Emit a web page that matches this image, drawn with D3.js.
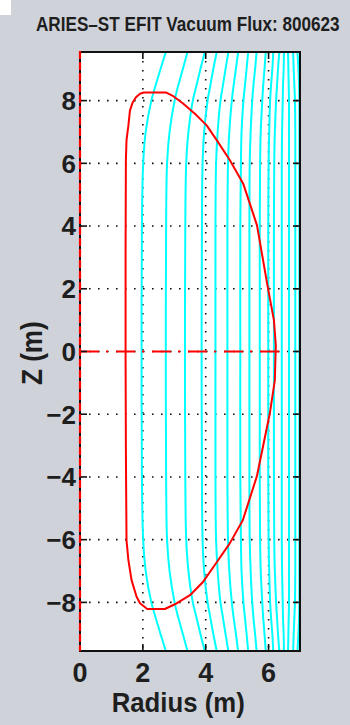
<!DOCTYPE html>
<html>
<head>
<meta charset="utf-8">
<script src="https://cdn.jsdelivr.net/npm/d3@7"></script>
<style>
  html, body { margin: 0; padding: 0; background: #cfd2d9; }
  svg { display: block; }
  text { font-family: "Liberation Sans", Arial, sans-serif; font-weight: bold; fill: #1e1e1e; }
</style>
</head>
<body>
<svg id="chart" width="350" height="725"></svg>
<script>
// Axis ticks
const xTicks = [0, 2, 4, 6];
const yTicks = [-8, -6, -4, -2, 0, 2, 4, 6, 8];

// Vertical stations (m) at which each flux contour's radius is tabulated
const zLevels = [9.55, 9.0, 8.5, 8.0, 7.0, 6.0, 4.0, 0, -4.0, -6.0, -7.0, -8.0, -8.5, -9.0, -9.55];

// Vacuum flux contours: radius (m) at each zLevel
const fluxContours = [
  [2.73, 2.56, 2.41, 2.27, 2.09, 2.01, 1.97, 1.96, 1.97, 2.01, 2.09, 2.27, 2.41, 2.56, 2.73],
  [3.42, 3.27, 3.13, 3.01, 2.85, 2.77, 2.74, 2.73, 2.74, 2.77, 2.85, 3.01, 3.13, 3.27, 3.42],
  [3.97, 3.83, 3.71, 3.59, 3.45, 3.38, 3.35, 3.34, 3.35, 3.38, 3.45, 3.59, 3.71, 3.83, 3.97],
  [4.35, 4.24, 4.15, 4.06, 3.95, 3.90, 3.88, 3.87, 3.88, 3.90, 3.95, 4.06, 4.15, 4.24, 4.35],
  [4.72, 4.63, 4.55, 4.47, 4.38, 4.33, 4.31, 4.31, 4.31, 4.33, 4.38, 4.47, 4.55, 4.63, 4.72],
  [5.03, 4.96, 4.89, 4.83, 4.75, 4.71, 4.69, 4.69, 4.69, 4.71, 4.75, 4.83, 4.89, 4.96, 5.03],
  [5.35, 5.30, 5.25, 5.20, 5.14, 5.12, 5.10, 5.10, 5.10, 5.12, 5.14, 5.20, 5.25, 5.30, 5.35],
  [5.62, 5.57, 5.52, 5.48, 5.43, 5.40, 5.39, 5.39, 5.39, 5.40, 5.43, 5.48, 5.52, 5.57, 5.62],
  [5.91, 5.87, 5.83, 5.80, 5.75, 5.73, 5.72, 5.72, 5.72, 5.73, 5.75, 5.80, 5.83, 5.87, 5.91],
  [6.15, 6.12, 6.08, 6.05, 6.02, 6.00, 5.99, 5.99, 5.99, 6.00, 6.02, 6.05, 6.08, 6.12, 6.15],
  [6.34, 6.30, 6.27, 6.24, 6.20, 6.18, 6.17, 6.17, 6.17, 6.18, 6.20, 6.24, 6.27, 6.30, 6.34],
  [6.49, 6.48, 6.46, 6.45, 6.43, 6.42, 6.42, 6.42, 6.42, 6.42, 6.43, 6.45, 6.46, 6.48, 6.49],
  [6.62, 6.63, 6.64, 6.65, 6.65, 6.65, 6.65, 6.65, 6.65, 6.65, 6.65, 6.65, 6.64, 6.63, 6.62],
  [6.78, 6.80, 6.82, 6.84, 6.85, 6.85, 6.85, 6.85, 6.85, 6.85, 6.85, 6.84, 6.82, 6.80, 6.78],
  [6.92, 6.95, 6.97, 6.98, 6.98, 6.98, 6.98, 6.98, 6.98, 6.98, 6.98, 6.98, 6.97, 6.95, 6.92]
];

// Plasma boundary (last closed flux surface): radius and height in metres
const boundaryR = [1.45, 1.45, 1.46, 1.48, 1.54, 1.59, 1.68, 1.78, 1.91, 2.03, 2.14, 2.73, 2.97, 3.28, 3.71, 4.03, 4.35, 4.77, 5.19, 5.63, 5.98, 6.17, 6.23,
                   6.20, 6.04, 5.63, 5.18, 4.77, 4.35, 3.92, 3.50, 3.02, 2.70, 2.14, 1.91, 1.80, 1.64, 1.54, 1.48, 1.46, 1.45];
const boundaryZ = [0.00, 3.20, 6.10, 6.74, 7.21, 7.69, 7.95, 8.11, 8.22, 8.26, 8.26, 8.26, 8.14, 7.91, 7.53, 7.21, 6.74, 6.10, 5.36, 4.03, 2.02, 1.00, 0.20,
                   -0.91, -1.97, -3.97, -5.38, -6.11, -6.72, -7.34, -7.77, -8.06, -8.21, -8.21, -8.03, -7.82, -7.29, -6.65, -6.02, -3.15, 0.00];

// Midplane chord
const midplaneR = [0, 6.42];
const midplaneZ = [0, 0];

const svg = d3.select("#chart");
const W = 350, H = 725;
const plot = { left: 80, right: 300, top: 52, bottom: 651 };

const x = d3.scaleLinear().domain([0, 7]).range([plot.left, plot.right]);
const y = d3.scaleLinear().domain([-9.55, 9.55]).range([plot.bottom, plot.top]);

// figure background
svg.append("rect").attr("width", W).attr("height", H).attr("fill", "#cfd2d9");
svg.append("rect").attr("x", 0).attr("y", 0).attr("width", 11).attr("height", 15).attr("fill", "#ffffff");

svg.append("defs").append("clipPath").attr("id", "plotClip")
  .append("rect")
  .attr("x", plot.left).attr("y", plot.top)
  .attr("width", plot.right - plot.left).attr("height", plot.bottom - plot.top);

svg.append("rect")
  .attr("x", plot.left).attr("y", plot.top)
  .attr("width", plot.right - plot.left).attr("height", plot.bottom - plot.top)
  .attr("fill", "#ffffff");

const inner = svg.append("g").attr("clip-path", "url(#plotClip)");

// dotted grid
const grid = inner.append("g")
  .attr("stroke", "#111").attr("stroke-width", 1.6)
  .attr("stroke-dasharray", "1.6,7.4").attr("fill", "none");
xTicks.filter(d => d > 0).forEach(t => {
  grid.append("line").attr("x1", x(t)).attr("x2", x(t)).attr("y1", plot.top).attr("y2", plot.bottom);
});
yTicks.forEach(t => {
  grid.append("line").attr("x1", plot.left).attr("x2", plot.right).attr("y1", y(t)).attr("y2", y(t));
});

// flux contours
const contourLine = d3.line()
  .x(d => x(d[0])).y(d => y(d[1]))
  .curve(d3.curveCatmullRom.alpha(0.5));

inner.append("g").selectAll("path")
  .data(fluxContours.map(rs => rs.map((r, i) => [r, zLevels[i]])))
  .join("path")
  .attr("d", contourLine)
  .attr("fill", "none")
  .attr("stroke", "#00ffff")
  .attr("stroke-width", 2);

// plasma boundary
const boundaryPts = boundaryR.map((r, i) => [r, boundaryZ[i]]);
inner.append("path")
  .attr("d", d3.line().x(d => x(d[0])).y(d => y(d[1])).curve(d3.curveLinear)(boundaryPts))
  .attr("fill", "none")
  .attr("stroke", "#ff0000")
  .attr("stroke-width", 2)
  .attr("stroke-linejoin", "round");

// midplane chord, dash-dot
inner.append("path")
  .attr("d", d3.line().x(d => x(d[0])).y(d => y(d[1]))(midplaneR.map((r, i) => [r, midplaneZ[i]])))
  .attr("fill", "none")
  .attr("stroke", "#ff0000")
  .attr("stroke-width", 2)
  .attr("stroke-dasharray", "19,7,2,8");

// frame
const frame = svg.append("g").attr("stroke", "#111").attr("fill", "none");
frame.append("rect")
  .attr("x", plot.left).attr("y", plot.top)
  .attr("width", plot.right - plot.left).attr("height", plot.bottom - plot.top)
  .attr("stroke-width", 2);

// inward ticks on all four sides
const tickLen = 7;
xTicks.filter(d => d > 0).forEach(t => {
  frame.append("line").attr("x1", x(t)).attr("x2", x(t)).attr("y1", plot.bottom).attr("y2", plot.bottom - tickLen).attr("stroke-width", 1.6);
  frame.append("line").attr("x1", x(t)).attr("x2", x(t)).attr("y1", plot.top).attr("y2", plot.top + tickLen).attr("stroke-width", 1.6);
});
yTicks.forEach(t => {
  frame.append("line").attr("x1", plot.left).attr("x2", plot.left + tickLen).attr("y1", y(t)).attr("y2", y(t)).attr("stroke-width", 1.6);
  frame.append("line").attr("x1", plot.right).attr("x2", plot.right - tickLen).attr("y1", y(t)).attr("y2", y(t)).attr("stroke-width", 1.6);
});

// red dashed line along R = 0
svg.append("line")
  .attr("x1", x(0)).attr("x2", x(0)).attr("y1", plot.top - 1).attr("y2", plot.bottom)
  .attr("stroke", "#ff0000").attr("stroke-width", 2.2)
  .attr("stroke-dasharray", "8,3");

// tick labels
svg.append("g").selectAll("text")
  .data(yTicks).join("text")
  .attr("x", 76).attr("y", d => y(d))
  .attr("dy", "0.36em")
  .attr("text-anchor", "end")
  .attr("font-size", 26)
  .text(d => d < 0 ? "\u2212" + Math.abs(d) : d);

svg.append("g").selectAll("text")
  .data(xTicks).join("text")
  .attr("x", d => x(d)).attr("y", 682)
  .attr("text-anchor", "middle")
  .attr("font-size", 27)
  .text(d => d);

// axis titles (condensed horizontally)
svg.append("text")
  .attr("transform", "translate(111.7,712) scale(0.92,1)")
  .attr("font-size", 28)
  .text("Radius (m)");

svg.append("text")
  .attr("transform", "translate(42,385) rotate(-90) scale(0.9,1)")
  .attr("font-size", 29)
  .text("Z (m)");

// title
svg.append("text")
  .attr("transform", "translate(36,31) scale(0.857,1)")
  .attr("font-size", 20)
  .text("ARIES\u2013ST EFIT Vacuum Flux: 800623");
</script>
</body>
</html>
